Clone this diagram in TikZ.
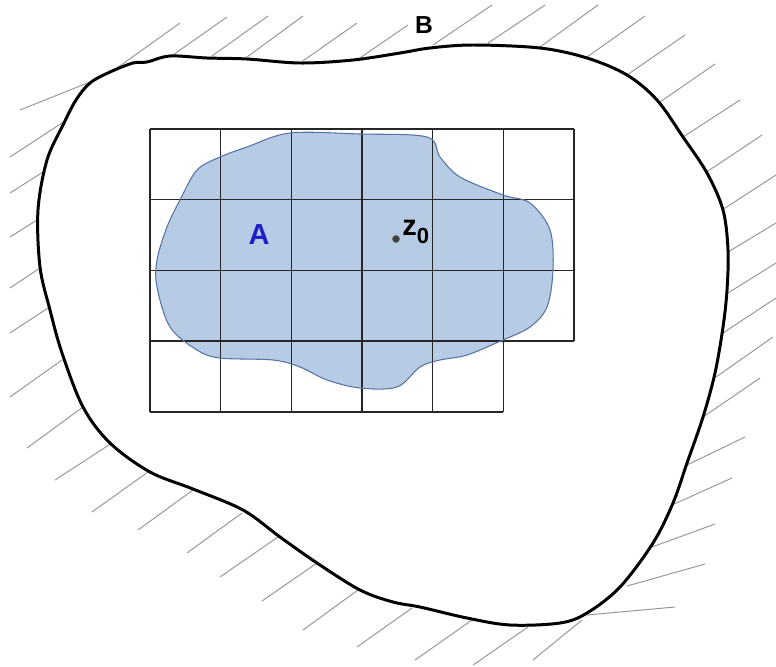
\documentclass[tikz,border=0pt]{standalone}
\usepackage{fontspec}
\setmainfont{Liberation Sans}
\definecolor{blobfill}{RGB}{183,203,228}
\definecolor{blobline}{RGB}{85,115,165}
\definecolor{labelA}{RGB}{30,30,200}
\definecolor{hatchgray}{RGB}{150,150,150}
\begin{document}
\begin{tikzpicture}[
    x=0.02cm, y=-0.02cm,
    boundary/.style={line width=1.7pt, black},
    hatch/.style={line width=0.55pt, hatchgray},
    cellgrid/.style={line width=0.8pt, black!85},
    lbl/.style={font=\bfseries, inner sep=0pt, anchor=base}
]
\useasboundingbox (0,0) rectangle (776,666);
\foreach \xa/\ya/\xb/\yb in {20/110/90/82, 10/157/65/121, 110/73/180/23,
    173/55/227/17, 212/56/268/16, 247/57/303/16, 300/63/357/23,
    357/60/408/25, 433/45/492/5, 488/43/545/5, 540/47/598/5,
    587/57/645/16, 627/75/685/35, 660/102/715/64, 683/137/740/100,
    705/173/762/135, 722/210/776/175, 728/252/776/223, 728/293/776/263,
    723/333/776/298, 716/377/773/337, 703/417/760/378, 687/465/745/437,
    672/505/732/478, 652/547/715/524, 627/586/705/564, 587/615/675/607,
    582/620/533/660, 528/627/473/665, 472/620/415/660, 412/608/357/647,
    358/590/303/630, 317/563/262/601, 278/537/220/577, 242/513/187/553,
    193/490/138/530, 148/472/92/512, 112/443/55/480, 83/407/27/448,
    62/360/10/397, 48/308/10/333, 40/268/10/288, 37/220/10/237,
    43/172/10/193}
    \draw[hatch] (\xa,\ya) -- (\xb,\yb);
\draw[boundary] plot[smooth cycle, tension=0.55] coordinates {
    (90,83) (110,72) (133,63) (147,62) (170,56) (207,58) (247,59)
    (300,63) (353,60) (400,53) (430,48) (473,45) (540,48) (587,58)
    (627,75) (657,100) (683,137) (707,173) (723,210) (728,250)
    (727,290) (723,327) (715,373) (703,417) (687,463) (673,503)
    (653,543) (620,587) (587,613) (560,623) (510,625) (467,618)
    (420,607) (393,602) (360,590) (317,563) (280,537) (243,510)
    (193,489) (150,472) (110,443) (83,407) (62,353) (50,310) (40,267)
    (38,210) (47,160) (63,125) (76,100)};
\fill[blobfill] plot[smooth cycle, tension=0.55] coordinates {
    (180,200) (197,170) (220,157) (247,147) (290,133) (360,134)
    (427,137) (440,157) (460,177) (503,195) (530,203) (550,230)
    (553,270) (547,307) (530,327) (503,340) (467,355) (440,360)
    (420,367) (397,387) (360,388) (327,380) (300,367) (273,360)
    (220,358) (197,350) (170,327) (157,287) (157,260) (167,227)};
\foreach \r in {0,...,3}
    \draw[cellgrid] (150,129+70.67*\r) -- (574,129+70.67*\r);
\draw[cellgrid] (150,412) -- (503,412);
\foreach \c in {0,...,6}
    \draw[cellgrid] (150+70.67*\c,129) -- (150+70.67*\c,341);
\foreach \c in {0,...,5}
    \draw[cellgrid] (150+70.67*\c,341) -- (150+70.67*\c,412);
\draw[blobline, line width=0.6pt] plot[smooth cycle, tension=0.55] coordinates {
    (180,200) (197,170) (220,157) (247,147) (290,133) (360,134)
    (427,137) (440,157) (460,177) (503,195) (530,203) (550,230)
    (553,270) (547,307) (530,327) (503,340) (467,355) (440,360)
    (420,367) (397,387) (360,388) (327,380) (300,367) (273,360)
    (220,358) (197,350) (170,327) (157,287) (157,260) (167,227)};
\node[lbl, font=\bfseries\fontsize{14}{16}\selectfont] (B) at (424,33) {B};
\node[lbl, text=labelA, font=\bfseries\fontsize{16.5}{18}\selectfont] (A) at (259,244) {A};
\node[circle, fill=black!75, draw=black!60, inner sep=0pt, minimum size=4pt] (z0) at (396,239) {};
\node[lbl, anchor=base west, font=\bfseries\fontsize{16.5}{18}\selectfont] (z0lbl) at (402,235.5)
    {z\raisebox{-4.5pt}{\fontsize{12.5}{14}\selectfont 0}};
\end{tikzpicture}
\end{document}
